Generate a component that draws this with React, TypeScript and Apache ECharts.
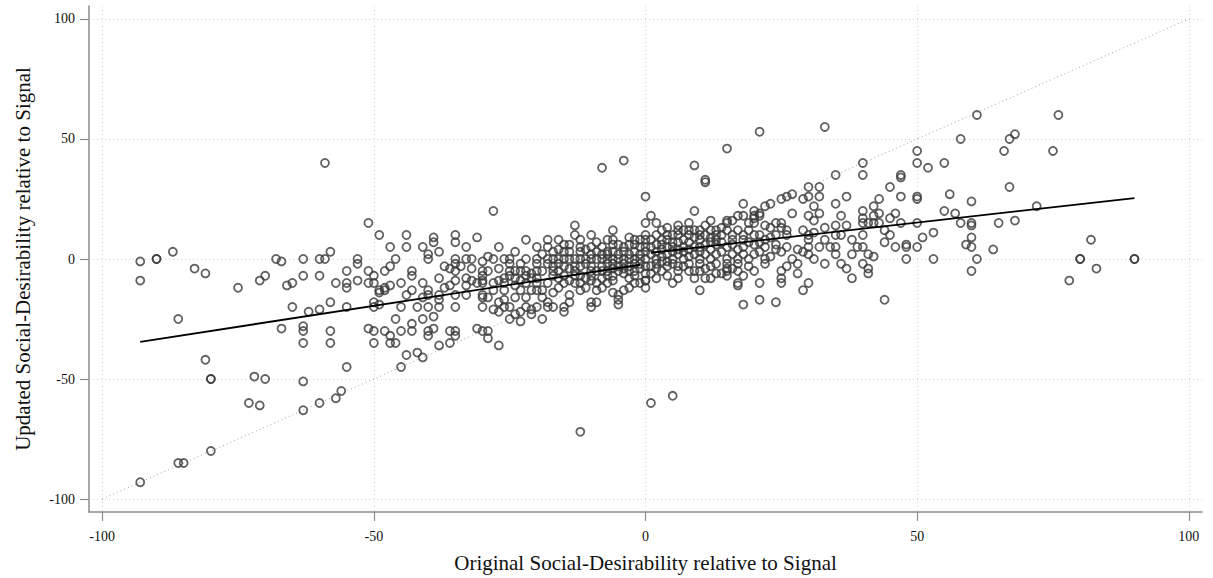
import React, { useEffect, useRef } from "react";
import * as echarts from "echarts";

const xTitle = "Original Social-Desirability relative to Signal";
const yTitle = "Updated Social-Desirability relative to Signal";
const tickValues = [-100, -50, 0, 50, 100];

const leftPoints: number[][] = [
  [-93,-1],[-93,-9],[-90,0],[-90,0],[-87,3],[-83,-4],[-81,-6],[-86,-25],[-81,-42],[-80,-50],[-80,-50],
  [-93,-93],[-86,-85],[-85,-85],[-80,-80],[-75,-12],[-73,-60],[-71,-61],[-72,-49],[-70,-50],[-71,-9],
  [-70,-7],[-68,0],[-67,-1],[-66,-11],[-65,-10],[-65,-20],[-67,-29],[-63,0],[-63,-7],[-63,-28],[-63,-30],
  [-63,-35],[-63,-51],[-63,-63],[-62,-22],[-60,0],[-59,0],[-58,3],[-60,-7],[-60,-21],[-58,-18],[-57,-10],
  [-58,-30],[-58,-35],[-55,-5],[-55,-10],[-55,-12],[-55,-20],[-55,-45],[-53,0],[-53,-2],[-53,-9],[-51,-5],
  [-51,-10],[-50,-7],[-50,-10],[-51,-29],[-50,-30],[-50,-35],[-50,-18],[-50,-20],[-49,10],[-51,15],[-59,40],
  [-60,-60],[-57,-58],[-56,-55],[-49,-19],[-49,-14],[-48,-13],[-49,-13],[-47,-11],[-48,-12],[-45,-10],
  [-45,-20],[-48,-30],[-47,-32],[-47,-35],[-46,-35],[-46,-25],[-45,-30],[-45,-45],[-44,-40],[-42,-39],
  [-41,-41],[-47,5],[-46,0],[-48,-5],[-47,-3]
];

const midLeftPoints: number[][] = [
  [-44,10],[-44,5],[-41,5],[-39,9],[-39,7],[-35,10],[-35,7],[-33,5],[-31,9],[-40,2],[-40,0],[-37,-3],
  [-36,-4],[-35,-5],[-34,-3],[-35,-9],[-33,-8],[-32,-9],[-31,-10],[-30,-5],[-30,-9],[-41,-10],[-43,-5],
  [-43,-7],[-44,-15],[-43,-13],[-41,-16],[-40,-13],[-40,-20],[-38,-20],[-38,-15],[-38,-8],[-35,-20],
  [-35,-15],[-33,-15],[-30,-16],[-29,-16],[-30,-20],[-28,-21],[-27,-18],[-26,-20],[-25,-20],[-27,-22],
  [-25,-25],[-24,-23],[-23,-26],[-22,-20],[-21,-23],[-20,-20],[-43,-27],[-43,-30],[-41,-25],[-40,-30],
  [-40,-32],[-39,-29],[-39,-24],[-38,-36],[-36,-30],[-36,-35],[-40,-15],[-38,-17],[-35,-30],[-35,-32],
  [-31,-29],[-30,-30],[-29,-30],[-29,-33],[-27,-36],[-23,-22],[-21,-21],[-36,-11],[-30,-15],[-30,-10],
  [-35,0],[-35,-2],[-33,0],[-32,0],[-30,-1],[-30,-7],[-29,1],[-29,-5],[-28,0],[-27,-4],[-26,0],[-25,0],
  [-25,-2],[-25,-5],[-25,-7],[-23,-2],[-23,-5],[-22,-5],[-22,-7],[-28,20],[-26,-13],[-24,-16],[-23,-13],
  [-22,-16],[-21,-13],[-20,-10],[-42,-20],[-37,-12],[-33,-11],[-28,-13],[-27,-9],[-32,-4],[-38,3],
  [-27,5],[-24,3],[-22,8],[-26,-10],[-24,-11],[-23,-9],[-21,-6],[-20,-13],[-19,-16],[-26,-17]
];

const centerPoints: number[][] = [
  [-20,5],[-18,8],[-18,5],[-20,0],[-20,-2],[-20,-5],[-17,0],[-16,0],[-16,-2],[-15,0],[-14,0],[-13,14],
  [-13,10],[-12,3],[-11,4],[-10,10],[-10,5],[-10,0],[-8,2],[-6,12],[-6,6],[-6,3],[-5,6],[-4,3],[-3,6],
  [-2,6],[-15,-3],[-17,-3],[-17,-7],[-15,-7],[-12,-3],[-19,-13],[-17,-14],[-16,-12],[-14,-9],[-12,-13],
  [-12,-7],[-10,-9],[-7,-7],[-4,-13],[-1,-10],[-19,-25],[-18,-18],[-17,-20],[-15,-20],[-15,-22],[-10,-18],
  [-9,-18],[-10,-20],[-5,-15],[-5,-17],[-5,-19],[-12,-72],[-8,38],[-4,41],[-6,-9],[-18,-20],
  [-8,-5],[-8,-3],[-8,0],[-7,-2],[-7,0],[-7,2],[-6,-4],[-6,-2],[-6,0],[-5,-5],[-5,-3],[-5,0],[-5,2],
  [-4,-6],[-4,-4],[-4,-2],[-4,0],[-3,-3],[-3,0],[-3,2],[-2,-5],[-2,-2],[-2,0],[-2,3],[-1,-4],[-1,-2],
  [-1,0],[-1,2],[-1,5],[-1,8],[0,-9],[0,-6],[0,-3],[0,0],[0,3],[0,5],[-9,-5],[-9,0],[-9,3],[-10,-5],
  [-10,-3],[-11,-2],[-11,0],[-12,0],[-13,-3],[-13,0],[-13,-5],[-14,-4],[-14,3],[-15,3],[-16,-5],[-17,3],
  [-18,-2],[-18,0],[-19,-5],[-19,2],[-20,-8],[-22,0],[-22,-10],[-24,-5],[-24,-8],[-21,-8],[-26,-8],
  [-28,-10],[-18,-10],[-16,-8],[-14,-15],[-13,-10],[-11,-12],[-9,-10],[-8,-12],[-7,-10],[-6,-14],[-3,-8],
  [-2,-10],[-3,-12],[-11,-8],[-7,3],[-9,7],[-7,8],[-12,8],[-15,6],[-16,4],[-3,9],[-14,-18],
  [-17,-5],[-15,-10],[-13,-7],[-12,-10],[-10,-7],[-9,-13],[-8,-8],[-7,-5],[-6,-7],[-3,-5],[-2,-7],
  [-12,5],[-10,2],[-8,5],[-6,8],[-4,5],[-2,8],[-14,6],[-16,8]
];

const rightCenterPoints: number[][] = [
  [0,26],[1,18],[0,15],[9,20],[4,13],[7,12],[9,39],[11,33],[11,32],[15,46],[21,53],[33,55],[15,16],[16,16],
  [17,18],[18,18],[18,23],[20,20],[21,19],[20,17],[22,22],[23,23],[25,25],[26,26],[27,27],[20,18],[21,18],
  [27,19],[15,15],[20,15],[22,14],[24,15],[25,15],[26,12],[12,12],[13,12],[15,12],[0,10],[0,8],[2,10],
  [3,8],[5,10],[5,7],[6,10],[8,10],[10,10],[10,8],[12,9],[14,10],[16,10],[18,10],[20,10],[21,10],[23,13],
  [24,10],[25,13],[29,12],[1,2],[1,5],[2,0],[2,3],[2,6],[3,1],[3,4],[4,2],[4,5],[4,8],[5,0],[5,3],[5,5],
  [6,2],[6,4],[6,7],[7,0],[7,3],[7,5],[8,1],[8,4],[8,7],[9,2],[9,5],[10,0],[10,3],[10,5],[11,2],[11,6],
  [12,0],[12,4],[13,2],[13,6],[14,3],[14,7],[15,0],[15,5],[16,2],[16,6],[17,0],[17,4],[18,2],[18,5],
  [19,7],[20,2],[20,6],[21,3],[22,5],[23,1],[24,6],[25,3],[0,-12],[0,-9],[1,-3],[1,-6],[2,-2],[2,-8],
  [3,-5],[3,-1],[4,-3],[4,-7],[5,-10],[5,-2],[6,-8],[6,-5],[7,-3],[8,-5],[8,-2],[9,-5],[10,-5],[10,-13],
  [10,-2],[11,-8],[12,-3],[13,-6],[14,-6],[15,-2],[15,-4],[15,-5],[15,-7],[17,-5],[17,-2],[17,-11],
  [17,-10],[18,-19],[18,-7],[20,-5],[21,-17],[21,-10],[22,-2],[24,-18],[25,-5],[25,-8],[19,-3],[12,-8],
  [1,-60],[5,-57],[3,12],[6,14],[9,12],[11,10],[13,8],[19,12],[22,8],[2,15],[8,15],[12,16],
  [1,8],[3,6],[4,10],[6,12],[7,8],[8,12],[9,9],[10,12],[11,14],[12,7],[13,10],[14,13],[16,8],[17,12],
  [18,8],[19,15],[21,7],[23,9],[24,4],[2,-4],[4,-1],[6,-3],[9,-8],[11,-4],[13,-2],[16,-4],[19,0],[22,0]
];

const rightPoints: number[][] = [
  [29,25],[30,26],[30,30],[32,30],[32,26],[35,35],[40,40],[40,35],[37,26],[35,23],[31,22],[30,18],[32,19],
  [31,16],[36,18],[40,20],[42,22],[43,25],[45,30],[47,26],[47,35],[47,34],[50,45],[50,40],[52,38],[50,26],
  [50,25],[40,17],[42,18],[43,19],[45,17],[46,19],[47,15],[50,15],[40,15],[41,15],[42,15],[43,15],[44,7],
  [46,5],[48,6],[48,5],[50,5],[51,9],[53,11],[53,0],[48,0],[44,-17],[37,14],[36,10],[35,14],[33,13],[31,11],
  [30,10],[30,8],[30,5],[30,2],[32,5],[33,-2],[31,0],[34,5],[35,10],[35,5],[35,2],[36,-2],[37,-4],[38,2],
  [39,5],[40,10],[40,5],[40,-2],[41,-4],[41,-6],[42,1],[41,2],[27,0],[28,-2],[26,5],[26,10],[28,4],[29,-13],
  [30,-10],[61,60],[76,60],[58,50],[67,50],[68,52],[66,45],[75,45],[55,40],[67,30],[56,27],[60,24],[55,20],
  [57,19],[72,22],[58,15],[60,15],[60,14],[65,15],[68,16],[60,9],[59,6],[60,5],[64,4],[61,0],[60,-5],
  [82,8],[80,0],[80,0],[83,-4],[78,-9],[90,0],[90,0],[25,-10],[28,-6],[26,-3],[29,3],[33,8],[38,8],[45,10],
  [44,12],[38,-8]
];

// fitted lines (separate fits for negative and positive gaps)
const fitNegative: number[][] = [[-93, -34.5], [-1, -2.4]];
const fitPositive: number[][] = [[1, 2.6], [90, 25.4]];
const diagonal: number[][] = [[-100, -100], [100, 100]];

const FONT = "'Liberation Serif', 'DejaVu Serif', serif";

export default function App() {
  const ref = useRef<HTMLDivElement>(null);
  useEffect(() => {
    if (!ref.current) return;
    const chart = echarts.init(ref.current, null, { renderer: "svg" });
    const allPoints = [
      ...leftPoints,
      ...midLeftPoints,
      ...centerPoints,
      ...rightCenterPoints,
      ...rightPoints,
    ];
    const axisCommon = {
      type: "value" as const,
      axisLine: { show: true, onZero: false, lineStyle: { color: "#8c8c8c", width: 1.5 } },
      axisTick: { show: true, length: 9, customValues: tickValues, lineStyle: { color: "#8c8c8c", width: 1.2 } },
      splitLine: { show: true, lineStyle: { color: "#d2d2d2", type: [1, 3] as any, width: 1 } },
      nameLocation: "middle" as const,
      nameTextStyle: { fontFamily: FONT, fontSize: 21, color: "#111" },
    };
    chart.setOption({
      animation: false,
      backgroundColor: "#ffffff",
      grid: { left: 89, right: 11, top: 6, bottom: 66, containLabel: false },
      xAxis: {
        ...axisCommon,
        min: -102.43,
        max: 102.43,
        name: xTitle,
        nameGap: 40,
        axisLabel: { customValues: tickValues, margin: 17, fontFamily: FONT, fontSize: 14, color: "#111" },
      },
      yAxis: {
        ...axisCommon,
        min: -105.4,
        max: 105.4,
        name: yTitle,
        nameGap: 56,
        axisLabel: { customValues: tickValues, margin: 14, fontFamily: FONT, fontSize: 14, color: "#111" },
      },
      series: [
        {
          type: "line",
          data: diagonal,
          symbol: "none",
          silent: true,
          lineStyle: { color: "#a0a0a0", width: 1, type: [1, 3] },
          z: 1,
        },
        {
          type: "scatter",
          data: allPoints,
          symbol: "circle",
          symbolSize: 8,
          itemStyle: { color: "rgba(0,0,0,0)", borderColor: "#3a3a3a", borderWidth: 1.8 },
          z: 2,
        },
        {
          type: "line",
          data: fitNegative,
          symbol: "none",
          lineStyle: { color: "#000", width: 1.8 },
          z: 3,
        },
        {
          type: "line",
          data: fitPositive,
          symbol: "none",
          lineStyle: { color: "#000", width: 1.8 },
          z: 3,
        },
      ],
    });
    return () => chart.dispose();
  }, []);
  return (
    <div
      ref={ref}
      style={{ position: "fixed", left: 0, top: 0, width: 1213, height: 578, background: "#fff" }}
    />
  );
}
